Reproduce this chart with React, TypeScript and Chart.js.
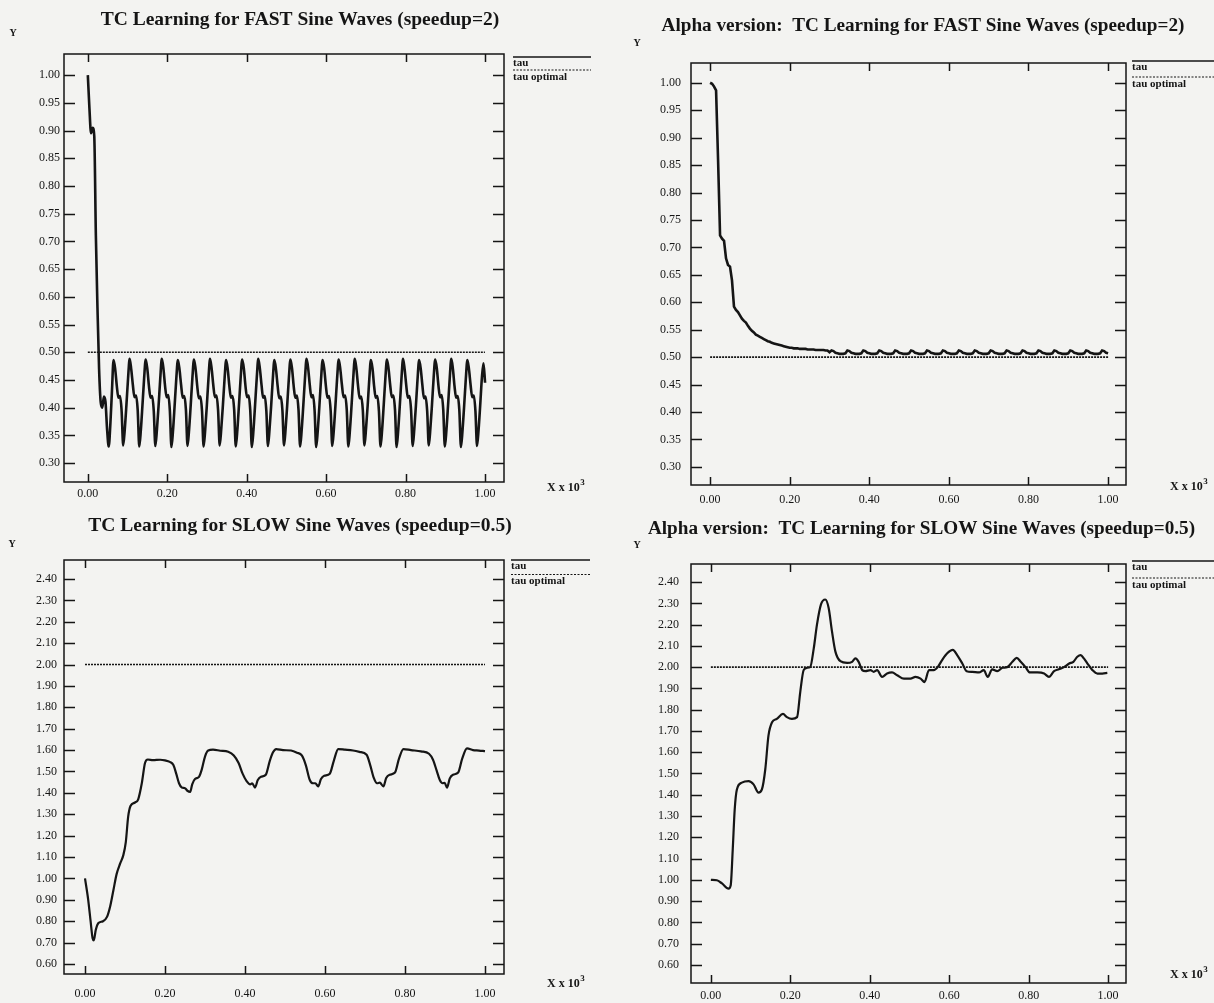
import React, { useEffect, useRef } from "react";
import { Chart, registerables } from "chart.js";

Chart.register(...registerables);

// ---------------- data ----------------
const SERIES_LABELS = ["tau", "tau optimal"];
const X_TICKS = [0.0, 0.2, 0.4, 0.6, 0.8, 1.0];
const FAST_Y_TICKS = [0.3, 0.35, 0.4, 0.45, 0.5, 0.55, 0.6, 0.65, 0.7, 0.75, 0.8, 0.85, 0.9, 0.95, 1.0];
const SLOW_Y_TICKS = [0.6, 0.7, 0.8, 0.9, 1.0, 1.1, 1.2, 1.3, 1.4, 1.5, 1.6, 1.7, 1.8, 1.9, 2.0, 2.1, 2.2, 2.3, 2.4];

const FAST_OPTIMAL = 0.5;
const SLOW_OPTIMAL = 2.0;

// TC learning, fast sine waves: tau sampled every FAST_STEP (x 10^3)
const FAST_STEP = 0.00405;
const FAST_TAU = [
  1.0, 0.94, 0.895, 0.905, 0.89, 0.71, 0.58, 0.47, 0.41, 0.4, 0.42, 0.41, 0.36, 0.33, 0.37, 0.43,
  0.486, 0.47, 0.44, 0.418, 0.421, 0.395, 0.332, 0.362, 0.405, 0.452,
  0.488, 0.469, 0.441, 0.419, 0.422, 0.396, 0.33, 0.361, 0.406, 0.453,
  0.487, 0.47, 0.439, 0.418, 0.421, 0.394, 0.331, 0.362, 0.404, 0.451,
  0.488, 0.471, 0.44, 0.419, 0.423, 0.395, 0.329, 0.36, 0.405, 0.452,
  0.486, 0.469, 0.441, 0.418, 0.421, 0.396, 0.331, 0.362, 0.406, 0.453,
  0.487, 0.47, 0.44, 0.417, 0.42, 0.394, 0.33, 0.361, 0.404, 0.452,
  0.488, 0.47, 0.441, 0.419, 0.422, 0.395, 0.332, 0.363, 0.405, 0.451,
  0.486, 0.469, 0.439, 0.418, 0.421, 0.396, 0.33, 0.361, 0.406, 0.453,
  0.487, 0.471, 0.44, 0.419, 0.422, 0.395, 0.329, 0.36, 0.405, 0.452,
  0.488, 0.47, 0.441, 0.418, 0.421, 0.394, 0.331, 0.362, 0.404, 0.451,
  0.486, 0.469, 0.44, 0.417, 0.42, 0.395, 0.332, 0.363, 0.406, 0.453,
  0.487, 0.47, 0.439, 0.418, 0.422, 0.396, 0.33, 0.361, 0.405, 0.452,
  0.488, 0.471, 0.441, 0.419, 0.423, 0.395, 0.329, 0.36, 0.404, 0.451,
  0.486, 0.47, 0.44, 0.418, 0.421, 0.394, 0.331, 0.362, 0.406, 0.453,
  0.487, 0.469, 0.441, 0.419, 0.422, 0.396, 0.33, 0.361, 0.405, 0.452,
  0.488, 0.47, 0.44, 0.417, 0.42, 0.395, 0.332, 0.363, 0.404, 0.451,
  0.486, 0.471, 0.439, 0.418, 0.421, 0.394, 0.33, 0.361, 0.406, 0.453,
  0.487, 0.47, 0.441, 0.419, 0.422, 0.396, 0.329, 0.36, 0.405, 0.452,
  0.488, 0.469, 0.44, 0.418, 0.421, 0.395, 0.331, 0.362, 0.404, 0.451,
  0.486, 0.47, 0.441, 0.417, 0.42, 0.394, 0.332, 0.363, 0.406, 0.453,
  0.487, 0.471, 0.44, 0.419, 0.423, 0.396, 0.33, 0.361, 0.405, 0.452,
  0.488, 0.47, 0.439, 0.418, 0.421, 0.395, 0.329, 0.36, 0.404, 0.451,
  0.486, 0.469, 0.441, 0.419, 0.422, 0.394, 0.331, 0.362, 0.406, 0.453,
  0.48, 0.445,
];

// Alpha version, fast sine waves: tau sampled every ALPHA_FAST_STEP
const ALPHA_FAST_STEP = 0.005;
const ALPHA_FAST_TAU = [
  1.0, 0.998, 0.993, 0.986, 0.86, 0.722, 0.716, 0.712, 0.68, 0.668,
  0.665, 0.64, 0.592, 0.586, 0.582, 0.576, 0.57, 0.566, 0.563, 0.557,
  0.552, 0.548, 0.545, 0.541, 0.539, 0.537, 0.535, 0.533, 0.531, 0.529,
  0.528, 0.526, 0.525, 0.524, 0.523, 0.522, 0.521, 0.52, 0.519, 0.518,
  0.517, 0.517, 0.516, 0.516, 0.516, 0.515, 0.515, 0.515, 0.515, 0.514,
  0.514, 0.514, 0.514, 0.513, 0.513, 0.513, 0.513, 0.513, 0.512, 0.512,
  0.509,
  0.512, 0.511, 0.508, 0.507, 0.506, 0.506, 0.506, 0.507,
  0.512, 0.511, 0.508, 0.507, 0.506, 0.506, 0.506, 0.507,
  0.512, 0.511, 0.508, 0.507, 0.506, 0.506, 0.506, 0.507,
  0.512, 0.511, 0.508, 0.507, 0.506, 0.506, 0.506, 0.507,
  0.512, 0.511, 0.508, 0.507, 0.506, 0.506, 0.506, 0.507,
  0.512, 0.511, 0.508, 0.507, 0.506, 0.506, 0.506, 0.507,
  0.512, 0.511, 0.508, 0.507, 0.506, 0.506, 0.506, 0.507,
  0.512, 0.511, 0.508, 0.507, 0.506, 0.506, 0.506, 0.507,
  0.512, 0.511, 0.508, 0.507, 0.506, 0.506, 0.506, 0.507,
  0.512, 0.511, 0.508, 0.507, 0.506, 0.506, 0.506, 0.507,
  0.512, 0.511, 0.508, 0.507, 0.506, 0.506, 0.506, 0.507,
  0.512, 0.511, 0.508, 0.507, 0.506, 0.506, 0.506, 0.507,
  0.512, 0.511, 0.508, 0.507, 0.506, 0.506, 0.506, 0.507,
  0.512, 0.511, 0.508, 0.507, 0.506, 0.506, 0.506, 0.507,
  0.512, 0.511, 0.508, 0.507, 0.506, 0.506, 0.506, 0.507,
  0.512, 0.511, 0.508, 0.507, 0.506, 0.506, 0.506, 0.507,
  0.512, 0.511, 0.508, 0.507, 0.506, 0.506, 0.506, 0.507,
  0.512, 0.511, 0.508, 0.507,
];

// TC learning, slow sine waves
const SLOW_X = [
  0.0, 0.008, 0.014, 0.019, 0.022, 0.027, 0.033, 0.045, 0.055, 0.063,
  0.071, 0.079, 0.088, 0.096, 0.102, 0.108, 0.114, 0.125, 0.133, 0.142,
  0.15, 0.157, 0.17, 0.188, 0.2, 0.212, 0.221, 0.228, 0.235, 0.242,
  0.25, 0.256, 0.263, 0.268, 0.275, 0.285, 0.292, 0.3, 0.308, 0.32,
  0.338, 0.358, 0.372, 0.384, 0.394, 0.404, 0.413, 0.418, 0.425, 0.432,
  0.44, 0.452, 0.462, 0.47, 0.478, 0.495, 0.515, 0.53, 0.542, 0.552,
  0.562, 0.57, 0.576, 0.583, 0.59, 0.598, 0.612, 0.622, 0.633, 0.65,
  0.67, 0.686, 0.704, 0.713, 0.722, 0.73, 0.737, 0.746, 0.753, 0.762,
  0.775, 0.785, 0.796, 0.815, 0.84, 0.86, 0.87, 0.879, 0.887, 0.894,
  0.899, 0.905, 0.912, 0.92, 0.933, 0.943, 0.955, 0.97, 0.985, 1.0,
];
const SLOW_TAU = [
  1.0, 0.9, 0.8, 0.72, 0.71, 0.76, 0.79, 0.8, 0.82, 0.87,
  0.945, 1.02, 1.07, 1.11, 1.17, 1.29, 1.34, 1.355, 1.37, 1.445,
  1.54, 1.556, 1.553, 1.555, 1.552, 1.545, 1.53, 1.49, 1.445, 1.425,
  1.422, 1.41, 1.405, 1.44, 1.465, 1.475, 1.51, 1.57, 1.598, 1.602,
  1.597, 1.592, 1.575, 1.54, 1.49, 1.455, 1.44, 1.445, 1.425, 1.46,
  1.475, 1.485, 1.55, 1.59, 1.605, 1.6, 1.598, 1.588, 1.575, 1.53,
  1.46, 1.445, 1.445, 1.43, 1.465, 1.48, 1.49, 1.55, 1.605, 1.602,
  1.598, 1.592, 1.578, 1.53, 1.47, 1.445, 1.448, 1.43, 1.47, 1.485,
  1.495, 1.56, 1.605, 1.6, 1.594, 1.583, 1.555, 1.505, 1.46, 1.445,
  1.447, 1.425, 1.468, 1.485, 1.495, 1.56, 1.608, 1.6, 1.598, 1.595,
];

// Alpha version, slow sine waves
const ALPHA_SLOW_X = [
  0.0, 0.015, 0.028, 0.0445, 0.05, 0.055, 0.06, 0.0655, 0.078, 0.095,
  0.1075, 0.12, 0.1285, 0.137, 0.145, 0.154, 0.166, 0.1815, 0.1915, 0.204,
  0.217, 0.225, 0.2335, 0.242, 0.25, 0.259, 0.267, 0.277, 0.288, 0.2965,
  0.305, 0.3135, 0.326, 0.343, 0.3555, 0.364, 0.372, 0.381, 0.389, 0.402,
  0.41, 0.4185, 0.431, 0.4435, 0.456, 0.469, 0.486, 0.5025, 0.515, 0.528,
  0.538, 0.549, 0.561, 0.571, 0.582, 0.595, 0.609, 0.62, 0.633, 0.644,
  0.658, 0.675, 0.687, 0.697, 0.708, 0.721, 0.734, 0.746, 0.759, 0.77,
  0.78, 0.792, 0.803, 0.822, 0.839, 0.851, 0.864, 0.876, 0.889, 0.902,
  0.9125, 0.9225, 0.931, 0.939, 0.948, 0.9605, 0.973, 0.9855, 0.998,
];
const ALPHA_SLOW_TAU = [
  1.0, 0.998, 0.983, 0.959, 0.975, 1.14, 1.33, 1.425, 1.457, 1.464,
  1.449, 1.41, 1.425, 1.52, 1.678, 1.741, 1.757, 1.78, 1.765, 1.757,
  1.765, 1.883, 1.986, 1.997, 2.0, 2.088, 2.199, 2.294, 2.318, 2.278,
  2.167, 2.073, 2.028, 2.02, 2.025, 2.041, 2.025, 1.986, 1.981, 1.986,
  1.978, 1.986, 1.954, 1.97, 1.975, 1.962, 1.946, 1.946, 1.954, 1.946,
  1.93, 1.986, 1.986, 2.0, 2.033, 2.065, 2.081, 2.057, 2.017, 1.981,
  1.978, 1.975, 1.986, 1.954, 1.99, 1.981, 1.997, 2.0, 2.025, 2.044,
  2.025, 2.0, 1.975, 1.975, 1.97, 1.954, 1.981, 1.99, 2.0, 2.017,
  2.025, 2.049, 2.057, 2.041, 2.017, 1.986, 1.97, 1.97, 1.973,
];

// ---------------- styling / layout ----------------
const INK = "#151515";
const BG = "#f3f3f1";
const FONT = '"Liberation Serif", "DejaVu Serif", serif';

type Panel = {
  title: string;
  canvas: { x: number; y: number; w: number; h: number };
  area: { L: number; T: number; R: number; B: number };
  xRange: [number, number];
  yRange: [number, number];
  yTicks: number[];
  yPad: number;
  xPad: number;
  titleX: number;
  titleY: number;
  titleSize: number;
  yLab: [number, number];
  xLab: [number, number];
  legend: { x1: number; x2: number; solid: number; dotted: number };
  lineW: number;
  smooth: boolean;
  tau: { x: number; y: number }[];
  optimal: number;
};

const stepSeries = (vals: number[], step: number) => vals.map((y, i) => ({ x: i * step, y }));
const pairSeries = (xs: number[], ys: number[]) => ys.map((y, i) => ({ x: xs[i], y }));

const PANELS: Panel[] = [
  {
    title: "TC Learning for FAST Sine Waves (speedup=2)",
    canvas: { x: 0, y: 0, w: 607, h: 500 },
    area: { L: 64, T: 54, R: 504, B: 482 },
    xRange: [-0.06, 1.048],
    yRange: [0.266, 1.038],
    yTicks: FAST_Y_TICKS,
    yPad: 4,
    xPad: 5,
    titleX: 300,
    titleY: 25,
    titleSize: 19.5,
    yLab: [13, 33],
    xLab: [547, 488],
    legend: { x1: 513, x2: 591, solid: 57, dotted: 70 },
    lineW: 2.6,
    smooth: true,
    tau: stepSeries(FAST_TAU, FAST_STEP),
    optimal: FAST_OPTIMAL,
  },
  {
    title: "Alpha version:  TC Learning for FAST Sine Waves (speedup=2)",
    canvas: { x: 607, y: 0, w: 607, h: 510 },
    area: { L: 691, T: 63, R: 1126, B: 485 },
    xRange: [-0.048, 1.045],
    yRange: [0.267, 1.036],
    yTicks: FAST_Y_TICKS,
    yPad: 10,
    xPad: 8,
    titleX: 923,
    titleY: 31,
    titleSize: 19.2,
    yLab: [637, 43],
    xLab: [1170, 487],
    legend: { x1: 1132, x2: 1214, solid: 61, dotted: 77 },
    lineW: 2.6,
    smooth: false,
    tau: stepSeries(ALPHA_FAST_TAU, ALPHA_FAST_STEP),
    optimal: FAST_OPTIMAL,
  },
  {
    title: "TC Learning for SLOW Sine Waves (speedup=0.5)",
    canvas: { x: 0, y: 500, w: 607, h: 503 },
    area: { L: 64, T: 560, R: 504, B: 974 },
    xRange: [-0.0525, 1.0475],
    yRange: [0.553, 2.489],
    yTicks: SLOW_Y_TICKS,
    yPad: 7,
    xPad: 13,
    titleX: 300,
    titleY: 531,
    titleSize: 19.5,
    yLab: [12, 544],
    xLab: [547, 984],
    legend: { x1: 511, x2: 590, solid: 560, dotted: 574.5 },
    lineW: 2.2,
    smooth: true,
    tau: pairSeries(SLOW_X, SLOW_TAU),
    optimal: SLOW_OPTIMAL,
  },
  {
    title: "Alpha version:  TC Learning for SLOW Sine Waves (speedup=0.5)",
    canvas: { x: 607, y: 500, w: 607, h: 503 },
    area: { L: 691, T: 564, R: 1126, B: 983 },
    xRange: [-0.05, 1.045],
    yRange: [0.515, 2.485],
    yTicks: SLOW_Y_TICKS,
    yPad: 12,
    xPad: 6,
    titleX: 921.5,
    titleY: 533.5,
    titleSize: 19.2,
    yLab: [637, 545],
    xLab: [1170, 975],
    legend: { x1: 1132, x2: 1214, solid: 561, dotted: 578 },
    lineW: 2.2,
    smooth: true,
    tau: pairSeries(ALPHA_SLOW_X, ALPHA_SLOW_TAU),
    optimal: SLOW_OPTIMAL,
  },
];

function makeFramePlugin(p: Panel) {
  return {
    id: "frame",
    afterDraw(chart: any) {
      const { ctx, chartArea: a, scales } = chart;
      const ox = p.canvas.x;
      const oy = p.canvas.y;
      ctx.save();
      ctx.strokeStyle = INK;
      ctx.fillStyle = INK;
      ctx.lineWidth = 1.5;
      ctx.setLineDash([]);
      ctx.strokeRect(a.left, a.top, a.right - a.left, a.bottom - a.top);
      ctx.beginPath();
      for (const t of scales.x.ticks) {
        const px = Math.round(scales.x.getPixelForValue(t.value)) + 0.5;
        ctx.moveTo(px, a.top);
        ctx.lineTo(px, a.top + 8);
        ctx.moveTo(px, a.bottom);
        ctx.lineTo(px, a.bottom - 8);
      }
      for (const t of scales.y.ticks) {
        const py = Math.round(scales.y.getPixelForValue(t.value)) + 0.5;
        ctx.moveTo(a.left, py);
        ctx.lineTo(a.left + 11, py);
        ctx.moveTo(a.right, py);
        ctx.lineTo(a.right - 11, py);
      }
      ctx.stroke();

      // title
      ctx.textAlign = "center";
      ctx.textBaseline = "alphabetic";
      ctx.font = `bold ${p.titleSize}px ${FONT}`;
      ctx.fillText(p.title, p.titleX - ox, p.titleY - oy);

      // Y label
      ctx.font = `bold 10px ${FONT}`;
      ctx.textBaseline = "middle";
      ctx.fillText("Y", p.yLab[0] - ox, p.yLab[1] - oy);

      // X x 10^3
      ctx.textAlign = "left";
      ctx.font = `bold 12px ${FONT}`;
      const base = "X x 10";
      ctx.fillText(base, p.xLab[0] - ox, p.xLab[1] - oy);
      const w = ctx.measureText(base).width;
      ctx.font = `bold 9px ${FONT}`;
      ctx.fillText("3", p.xLab[0] - ox + w + 0.5, p.xLab[1] - oy - 5);

      // legend
      const ds = chart.data.datasets;
      const lx1 = p.legend.x1 - ox;
      const lx2 = p.legend.x2 - ox;
      ctx.lineWidth = 1.4;
      ctx.beginPath();
      ctx.moveTo(lx1, p.legend.solid - oy);
      ctx.lineTo(lx2, p.legend.solid - oy);
      ctx.stroke();
      ctx.setLineDash([2, 1.5]);
      ctx.lineWidth = 1.2;
      ctx.beginPath();
      ctx.moveTo(lx1, p.legend.dotted - oy);
      ctx.lineTo(lx2, p.legend.dotted - oy);
      ctx.stroke();
      ctx.setLineDash([]);
      ctx.font = `bold 11px ${FONT}`;
      ctx.textBaseline = "middle";
      ctx.fillText(ds[0].label, lx1, p.legend.solid - oy + 6);
      ctx.fillText(ds[1].label, lx1, p.legend.dotted - oy + 7);
      ctx.restore();
    },
  };
}

function PanelChart({ p }: { p: Panel }) {
  const ref = useRef<HTMLCanvasElement | null>(null);
  useEffect(() => {
    if (!ref.current) return;
    const tickFont = { family: FONT, size: 12 };
    const chart = new Chart(ref.current, {
      type: "line",
      data: {
        datasets: [
          {
            label: SERIES_LABELS[0],
            data: p.tau,
            borderColor: INK,
            borderWidth: p.lineW,
            pointRadius: 0,
            fill: false,
            tension: p.smooth ? 0.4 : 0,
            cubicInterpolationMode: p.smooth ? "monotone" : "default",
          },
          {
            label: SERIES_LABELS[1],
            data: [
              { x: 0, y: p.optimal },
              { x: 1, y: p.optimal },
            ],
            borderColor: INK,
            borderWidth: 1.6,
            borderDash: [2, 1],
            pointRadius: 0,
            fill: false,
          },
        ],
      },
      options: {
        animation: false,
        responsive: false,
        devicePixelRatio: 1,
        events: [],
        layout: {
          padding: {
            left: 0,
            bottom: 0,
            top: p.area.T - p.canvas.y,
            right: p.canvas.x + p.canvas.w - p.area.R,
          },
        },
        plugins: { legend: { display: false }, title: { display: false }, tooltip: { enabled: false } },
        scales: {
          x: {
            type: "linear",
            min: p.xRange[0],
            max: p.xRange[1],
            afterBuildTicks: (s: any) => {
              s.ticks = X_TICKS.map((v) => ({ value: v }));
            },
            afterFit: (s: any) => {
              s.height = p.canvas.y + p.canvas.h - p.area.B;
            },
            grid: { display: false, drawTicks: false },
            border: { display: false },
            ticks: {
              autoSkip: false,
              maxRotation: 0,
              padding: p.xPad,
              color: INK,
              font: tickFont,
              callback: (v: any) => Number(v).toFixed(2),
            },
          },
          y: {
            type: "linear",
            min: p.yRange[0],
            max: p.yRange[1],
            afterBuildTicks: (s: any) => {
              s.ticks = p.yTicks.map((v) => ({ value: v }));
            },
            afterFit: (s: any) => {
              s.width = p.area.L - p.canvas.x;
            },
            grid: { display: false, drawTicks: false },
            border: { display: false },
            ticks: {
              autoSkip: false,
              padding: p.yPad,
              color: INK,
              font: tickFont,
              callback: (v: any) => Number(v).toFixed(2),
            },
          },
        },
      },
      plugins: [makeFramePlugin(p)],
    } as any);
    return () => chart.destroy();
  }, [p]);
  return (
    <canvas
      ref={ref}
      width={p.canvas.w}
      height={p.canvas.h}
      style={{
        position: "absolute",
        left: p.canvas.x,
        top: p.canvas.y,
        width: p.canvas.w,
        height: p.canvas.h,
      }}
    />
  );
}

export default function App() {
  return (
    <div
      style={{
        position: "absolute",
        left: 0,
        top: 0,
        width: 1214,
        height: 1003,
        background: BG,
        overflow: "hidden",
      }}
    >
      {PANELS.map((p, i) => (
        <PanelChart key={i} p={p} />
      ))}
    </div>
  );
}
